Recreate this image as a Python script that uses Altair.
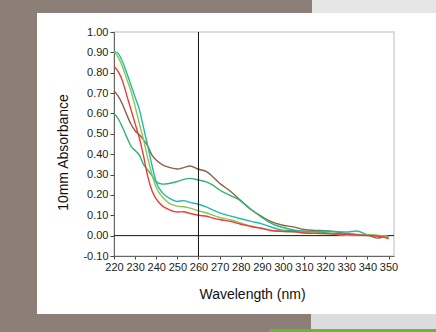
import altair as alt
import pandas as pd

# ---- data ----
wavelength = [220, 222, 224, 226, 228, 230, 232, 234, 236, 238, 240, 243, 246, 250,
              253, 256, 260, 264, 267, 270, 275, 280, 285, 290, 295, 300, 305, 310,
              315, 320, 325, 330, 335, 340, 345, 348, 350]

brown = [0.71, 0.685, 0.645, 0.595, 0.548, 0.515, 0.495, 0.47, 0.44, 0.395, 0.371, 0.347,
         0.336, 0.327, 0.334, 0.342, 0.326, 0.313, 0.287, 0.257, 0.219, 0.172, 0.127, 0.094,
         0.066, 0.051, 0.043, 0.03, 0.026, 0.024, 0.019, 0.01, 0.006, 0.003, -0.012, -0.004, -0.011]

green = [0.60, 0.574, 0.532, 0.485, 0.44, 0.418, 0.395, 0.35, 0.322, 0.295, 0.264, 0.253,
         0.256, 0.266, 0.276, 0.281, 0.273, 0.263, 0.247, 0.224, 0.198, 0.171, 0.128, 0.09,
         0.058, 0.04, 0.028, 0.021, 0.017, 0.015, 0.011, 0.007, 0.005, 0.002, 0.0, -0.002, -0.004]

teal = [0.905, 0.895, 0.855, 0.80, 0.74, 0.68, 0.62, 0.53, 0.44, 0.345, 0.262, 0.21,
        0.185, 0.168, 0.172, 0.163, 0.154, 0.14, 0.125, 0.112, 0.097, 0.083, 0.07, 0.058,
        0.04, 0.027, 0.024, 0.022, 0.021, 0.022, 0.02, 0.018, 0.023, 0.005, 0.0, -0.002, -0.004]

light_green = [0.905, 0.875, 0.83, 0.77, 0.71, 0.635, 0.55, 0.47, 0.38, 0.30, 0.235, 0.19,
               0.16, 0.145, 0.142, 0.135, 0.122, 0.111, 0.10, 0.09, 0.078, 0.062, 0.046, 0.037,
               0.025, 0.02, 0.018, 0.015, 0.013, 0.01, 0.006, 0.002, 0.002, 0.003, 0.002, -0.003, -0.007]

red = [0.83, 0.805, 0.76, 0.69, 0.62, 0.55, 0.48, 0.39, 0.29, 0.22, 0.18, 0.145,
       0.128, 0.116, 0.117, 0.109, 0.10, 0.095, 0.086, 0.079, 0.07, 0.056, 0.045, 0.035,
       0.024, 0.021, 0.02, 0.013, 0.011, 0.01, 0.008, 0.006, 0.003, 0.001, -0.003, -0.008, -0.016]

series_names = ["A", "B", "C", "D", "E"]
series_values = [brown, green, teal, light_green, red]
series_colors = ["#8c6046", "#30b472", "#22b8b2", "#8fc74a", "#ee3a3a"]

x_ticks = list(range(220, 351, 10))
y_ticks = [round(-0.1 + 0.1 * i, 2) for i in range(12)]

rows = []
for name, vals in zip(series_names, series_values):
    for w, v in zip(wavelength, vals):
        rows.append({"wavelength": w, "absorbance": v, "series": name})
df = pd.DataFrame(rows)

one = pd.DataFrame({"k": [0]})
zero_df = pd.DataFrame({"absorbance": [0.0]})
mark_df = pd.DataFrame({"wavelength": [260]})

TAUPE = "#8b7f78"


def deco(color, x, x2, y, y2):
    return alt.Chart(one).mark_rect(color=color).encode(
        x=alt.value(x), x2=alt.value(x2), y=alt.value(y), y2=alt.value(y2))


# decorative page frame pieces (outside the white panel)
left_strip = deco(TAUPE, -114, -77, -32, 300)
top_strip = deco(TAUPE, -114, 198, -32, -19)
top_gray = deco("#e6e6e6", 198, 322, -32, -19)
bottom_strip = deco(TAUPE, -114, 197, 282, 300)
bottom_gray = deco("#dcdcdc", 197, 322, 282, 300)
green_bar = deco("#6db33f", 155, 322, 297, 300)

xscale = alt.Scale(domain=[220, 352.6], nice=False, zero=False)
yscale = alt.Scale(domain=[-0.1, 1.0], nice=False, zero=False)

x_axis = alt.Axis(values=x_ticks, title="Wavelength (nm)", domain=True,
                  tickSize=3, labelPadding=2, labelFlush=False, labelOverlap=False,
                  grid=False, titleX=138, titleY=42, titleBaseline="alphabetic",
                  titleAlign="center")
y_axis = alt.Axis(values=y_ticks, title="10mm Absorbance", grid=False,
                  labelExpr="replace(format(datum.value, '.2f'), '\u2212', '-')",
                  tickSize=4, labelPadding=2, labelFlush=False, labelOverlap=False,
                  titleX=-47, titleY=120, titleAngle=270,
                  titleBaseline="alphabetic", titleAlign="center")

lines = alt.Chart(df).mark_line(strokeWidth=1.4, interpolate="monotone").encode(
    x=alt.X("wavelength:Q", scale=xscale, axis=x_axis),
    y=alt.Y("absorbance:Q", scale=yscale, axis=y_axis),
    color=alt.Color("series:N", scale=alt.Scale(domain=series_names, range=series_colors),
                    legend=None),
    order=alt.Order("wavelength:Q"),
)

zero_line = alt.Chart(zero_df).mark_rule(color="#111", strokeWidth=1).encode(
    y=alt.Y("absorbance:Q", scale=yscale, axis=y_axis))
v_line = alt.Chart(mark_df).mark_rule(color="#111", strokeWidth=1).encode(
    x=alt.X("wavelength:Q", scale=xscale, axis=x_axis))

chart = alt.layer(
    left_strip, top_strip, top_gray, bottom_strip, bottom_gray, green_bar,
    zero_line, lines, v_line
).resolve_scale(
    x="shared", y="shared"
).properties(
    width=280, height=224,
    autosize=alt.AutoSizeParams(type="none"),
    padding={"left": 114, "top": 32, "right": 42, "bottom": 76},
    background="white",
).configure_view(
    stroke="#d2d2d2", strokeWidth=1.5
).configure_axis(
    labelFont="Liberation Sans", labelFontSize=11, labelColor="#222",
    titleFont="Liberation Sans", titleFontSize=14, titleFontWeight="normal", titleColor="#111",
    tickColor="#444", domainColor="#666", labelOverlap=False, labelFlush=False,
)

chart.save("out.html", embed_options={"renderer": "svg", "actions": False})
